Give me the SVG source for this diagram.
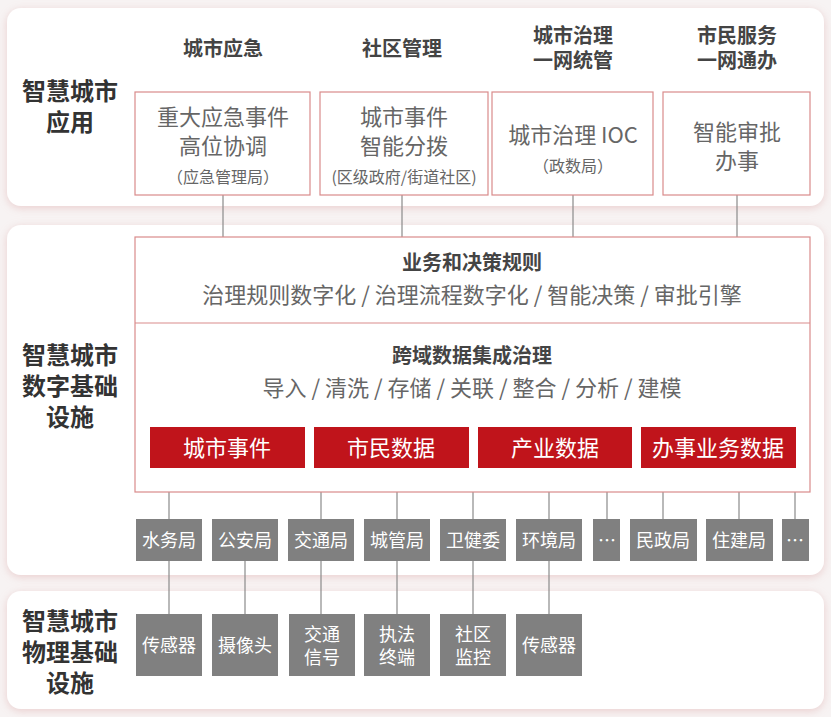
<svg xmlns="http://www.w3.org/2000/svg" width="831" height="717" viewBox="0 0 831 717">
<defs>
<filter id="sh" x="-5%" y="-10%" width="110%" height="120%"><feDropShadow dx="0" dy="2" stdDeviation="4" flood-color="#d9a0a0" flood-opacity="0.45"/></filter>
<style>
.pn{fill:#fff;filter:url(#sh)}
.bx{fill:#fff;stroke:#d98b8b;stroke-width:1.2}
.rd{fill:#c0141b}
.gy{fill:#808080}
.ln{stroke:#8a8a8a;stroke-width:1.2;fill:none}
text{font-family:"Noto Sans CJK SC","Noto Sans",sans-serif;text-anchor:middle}
.lb{font-size:24px;font-weight:bold;fill:#333}
.hd{font-size:20px;font-weight:bold;fill:#444}
.bt{font-size:22px;fill:#666}
.sm{font-size:16px;fill:#666}
.wt{font-size:22px;fill:#fff}
.gt{font-size:18px;fill:#fff}
</style>
</defs>
<rect width="831" height="717" fill="#f7f3f3"/>
<g id="panel-app">
<rect class="pn" x="7" y="8" width="817" height="198" rx="14"/>
<text class="lb" x="70" y="100">智慧城市</text><text class="lb" x="70" y="131">应用</text>
</g>
<g id="panel-digital">
<rect class="pn" x="7" y="225" width="817" height="350" rx="14"/>
<text class="lb" x="70" y="364">智慧城市</text><text class="lb" x="70" y="395">数字基础</text><text class="lb" x="70" y="426">设施</text>
</g>
<g id="panel-physical">
<rect class="pn" x="7" y="591" width="817" height="118" rx="14"/>
<text class="lb" x="70" y="630">智慧城市</text><text class="lb" x="70" y="661">物理基础</text><text class="lb" x="70" y="692">设施</text>
</g>
<g id="connectors">
<line class="ln" x1="223" y1="195" x2="223" y2="237"/>
<line class="ln" x1="402" y1="195" x2="402" y2="237"/>
<line class="ln" x1="573" y1="195" x2="573" y2="237"/>
<line class="ln" x1="737" y1="195" x2="737" y2="237"/>
<line class="ln" x1="169" y1="492" x2="169" y2="614"/>
<line class="ln" x1="245" y1="561" x2="245" y2="614"/>
<line class="ln" x1="321" y1="492" x2="321" y2="614"/>
<line class="ln" x1="397" y1="492" x2="397" y2="614"/>
<line class="ln" x1="473" y1="492" x2="473" y2="614"/>
<line class="ln" x1="549" y1="492" x2="549" y2="614"/>
<line class="ln" x1="607" y1="492" x2="607" y2="519"/>
<line class="ln" x1="663" y1="492" x2="663" y2="519"/>
<line class="ln" x1="739" y1="492" x2="739" y2="519"/>
<line class="ln" x1="795" y1="492" x2="795" y2="519"/>
</g>
<g id="col-emergency">
<text class="hd" x="223" y="56">城市应急</text>
<rect class="bx" x="135" y="92" width="175" height="103"/>
<text class="bt" x="223" y="125">重大应急事件</text><text class="bt" x="223" y="154">高位协调</text><text class="sm" x="223" y="183">（应急管理局）</text>
</g>
<g id="col-community">
<text class="hd" x="402" y="56">社区管理</text>
<rect class="bx" x="320" y="92" width="168" height="103"/>
<text class="bt" x="404" y="125">城市事件</text><text class="bt" x="404" y="154">智能分拨</text><text class="sm" x="404" y="183">(区级政府/街道社区)</text>
</g>
<g id="col-ioc">
<text class="hd" x="573" y="43">城市治理</text><text class="hd" x="573" y="68">一网统管</text>
<rect class="bx" x="492" y="92" width="161" height="103"/>
<text class="bt" x="573" y="143">城市治理 IOC</text><text class="sm" x="573" y="172">（政数局）</text>
</g>
<g id="col-service">
<text class="hd" x="737" y="43">市民服务</text><text class="hd" x="737" y="68">一网通办</text>
<rect class="bx" x="663" y="92" width="147" height="103"/>
<text class="bt" x="737" y="140">智能审批</text><text class="bt" x="737" y="169">办事</text>
</g>
<g id="platform">
<rect class="bx" x="135" y="237" width="675" height="255"/>
<line x1="135" y1="323" x2="810" y2="323" stroke="#d98b8b" stroke-width="1.2"/>
<text class="hd" x="472" y="270">业务和决策规则</text>
<text class="bt" x="472" y="303" font-size="23">治理规则数字化 / 治理流程数字化 / 智能决策 / 审批引擎</text>
<text class="hd" x="472" y="363">跨域数据集成治理</text>
<text class="bt" x="472" y="396" font-size="23">导入 / 清洗 / 存储 / 关联 / 整合 / 分析 / 建模</text>
</g>
<g id="data-bars">
<rect class="rd" x="150" y="427" width="155" height="41"/><text class="wt" x="227" y="456">城市事件</text>
<rect class="rd" x="314" y="427" width="155" height="41"/><text class="wt" x="391" y="456">市民数据</text>
<rect class="rd" x="478" y="427" width="154" height="41"/><text class="wt" x="555" y="456">产业数据</text>
<rect class="rd" x="641" y="427" width="155" height="41"/><text class="wt" x="718" y="456">办事业务数据</text>
</g>
<g id="departments">
<rect class="gy" x="136" y="519" width="66" height="42"/><text class="gt" x="169" y="547">水务局</text>
<rect class="gy" x="212" y="519" width="66" height="42"/><text class="gt" x="245" y="547">公安局</text>
<rect class="gy" x="288" y="519" width="66" height="42"/><text class="gt" x="321" y="547">交通局</text>
<rect class="gy" x="364" y="519" width="66" height="42"/><text class="gt" x="397" y="547">城管局</text>
<rect class="gy" x="440" y="519" width="66" height="42"/><text class="gt" x="473" y="547">卫健委</text>
<rect class="gy" x="516" y="519" width="66" height="42"/><text class="gt" x="549" y="547">环境局</text>
<rect class="gy" x="593" y="519" width="27" height="42"/><text class="gt" x="607" y="547">…</text>
<rect class="gy" x="630" y="519" width="67" height="42"/><text class="gt" x="663" y="547">民政局</text>
<rect class="gy" x="706" y="519" width="67" height="42"/><text class="gt" x="739" y="547">住建局</text>
<rect class="gy" x="782" y="519" width="27" height="42"/><text class="gt" x="795" y="547">…</text>
</g>
<g id="devices">
<rect class="gy" x="136" y="614" width="66" height="62"/><text class="gt" x="169" y="652">传感器</text>
<rect class="gy" x="212" y="614" width="66" height="62"/><text class="gt" x="245" y="652">摄像头</text>
<rect class="gy" x="289" y="614" width="66" height="62"/><text class="gt" x="322" y="641">交通</text><text class="gt" x="322" y="664">信号</text>
<rect class="gy" x="364" y="614" width="66" height="62"/><text class="gt" x="397" y="641">执法</text><text class="gt" x="397" y="664">终端</text>
<rect class="gy" x="440" y="614" width="66" height="62"/><text class="gt" x="473" y="641">社区</text><text class="gt" x="473" y="664">监控</text>
<rect class="gy" x="516" y="614" width="66" height="62"/><text class="gt" x="549" y="652">传感器</text>
</g>
</svg>
